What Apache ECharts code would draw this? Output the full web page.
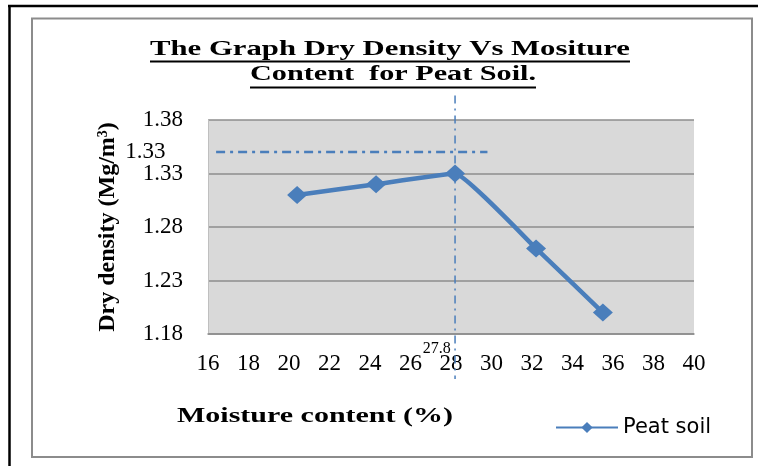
<!DOCTYPE html>
<html>
<head>
<meta charset="utf-8">
<title>Dry Density Vs Moisture Content</title>
<script src="https://cdn.jsdelivr.net/npm/echarts@6/dist/echarts.min.js"></script>
<style>
html, body { margin: 0; padding: 0; background: #fff; }
#chart { width: 758px; height: 466px; }
</style>
</head>
<body>
<div id="chart"></div>
<script>
// data
var moisture = [20.4, 24.3, 28.2, 32.2, 35.5];
var dryDensity = [1.31, 1.32, 1.33, 1.26, 1.20];
var xTickValues = [16, 18, 20, 22, 24, 26, 28, 30, 32, 34, 36, 38, 40];
var yTickLabels = ['1.18', '1.23', '1.28', '1.33', '1.38'];

// dash-dot guide lines (data units)
var omcGuideX = [28.2, 28.2];
var omcGuideY = [1.403, 1.138];
var mddGuideX = [16.4, 29.8];
var mddGuideY = [1.35, 1.35];

// hand typed annotations on the figure
var noteTexts = ['1.33', '27.8'];
var noteX = [13.9, 27.3];
var noteY = [1.35, 1.166];

var blue = '#4A7EBB';
var serif = '"Liberation Serif", "Times New Roman", serif';

function zip(xs, ys) {
  return xs.map(function (x, i) { return [x, ys[i]]; });
}

// the picture is stretched sideways, so fit some texts to a width
function fitScale(text, font, target) {
  var ctx = document.createElement('canvas').getContext('2d');
  ctx.font = font;
  return target / ctx.measureText(text).width;
}

var chart = echarts.init(document.getElementById('chart'));

var titleFont = 'bold 21px ' + serif;
var title1 = 'The Graph Dry Density Vs Mositure';
var title2 = 'Content  for Peat Soil.';
var xName = 'Moisture content (%)';

var option = {
  animation: false,
  backgroundColor: '#fff',
  grid: {
    left: 208, top: 120, width: 486, height: 214,
    show: true, backgroundColor: '#D9D9D9', borderWidth: 0,
    outerBoundsMode: 'none'
  },
  xAxis: {
    type: 'value',
    min: xTickValues[0],
    max: xTickValues[xTickValues.length - 1],
    interval: xTickValues[1] - xTickValues[0],
    axisLine: { show: true, lineStyle: { color: '#8C8C8C', width: 1.5 } },
    axisTick: { show: false },
    splitLine: { show: false },
    axisLabel: { margin: 18, color: '#000', fontFamily: serif, fontSize: 23 }
  },
  yAxis: {
    type: 'value',
    min: +yTickLabels[0],
    max: +yTickLabels[yTickLabels.length - 1],
    interval: +(yTickLabels[1] - yTickLabels[0]).toFixed(2),
    axisLine: { show: true, lineStyle: { color: '#BFBFBF', width: 1 } },
    axisTick: { show: false },
    splitLine: { show: true, lineStyle: { color: '#8C8C8C', width: 1.5 } },
    axisLabel: {
      margin: 25, color: '#000', fontFamily: serif, fontSize: 23,
      formatter: function (v) { return v.toFixed(2); }
    },
    name: '{a|Dry density (Mg/m}{s|3}{a|)}',
    nameLocation: 'middle',
    nameGap: 88,
    nameTextStyle: {
      rich: {
        a: { fontFamily: serif, fontSize: 24, fontWeight: 'bold', color: '#000' },
        s: { fontFamily: serif, fontSize: 14, fontWeight: 'bold', color: '#000', verticalAlign: 'top' }
      }
    }
  },
  legend: {
    left: 550, top: 412,
    itemWidth: 62, itemHeight: 14,
    textStyle: { fontFamily: '"DejaVu Sans", sans-serif', fontSize: 21, color: '#000' },
    data: ['Peat soil']
  },
  series: [
    {
      name: 'Peat soil',
      type: 'line',
      smooth: 0.1,
      data: zip(moisture, dryDensity),
      symbol: 'diamond',
      symbolSize: [20, 18],
      lineStyle: { color: blue, width: 4.5 },
      itemStyle: { color: blue }
    },
    {
      name: 'omc guide',
      type: 'line',
      clip: false,
      silent: true,
      symbol: 'none',
      data: zip(omcGuideX, omcGuideY),
      lineStyle: { color: blue, width: 1.5, type: [8, 5, 2, 5] }
    },
    {
      name: 'mdd guide',
      type: 'line',
      clip: false,
      silent: true,
      symbol: 'none',
      data: zip(mddGuideX, mddGuideY),
      lineStyle: { color: blue, width: 2.5, type: [9, 5, 3, 5] }
    }
  ]
};

chart.setOption(option);

// frames, title and free texts
var noteEls = noteTexts.map(function (t, i) {
  var p = chart.convertToPixel({ gridIndex: 0 }, [noteX[i], noteY[i]]);
  return {
    type: 'text', x: p[0], y: p[1], silent: true,
    style: {
      text: t, fill: '#000',
      font: (i === 0 ? '23px ' : '16px ') + serif,
      align: i === 0 ? 'right' : 'center', verticalAlign: 'middle'
    }
  };
});

chart.setOption({
  graphic: [
    { type: 'line', silent: true, shape: { x1: 8, y1: 6, x2: 758, y2: 6 }, style: { stroke: '#000', lineWidth: 2.5 } },
    { type: 'line', silent: true, shape: { x1: 9.5, y1: 5, x2: 9.5, y2: 466 }, style: { stroke: '#000', lineWidth: 2.5 } },
    { type: 'rect', silent: true, shape: { x: 32, y: 18.5, width: 720, height: 438.5 }, style: { fill: null, stroke: '#8C8C8C', lineWidth: 2 } },
    {
      type: 'text', x: 390, y: 50, silent: true,
      scaleX: fitScale(title1, titleFont, 480),
      style: { text: title1, font: titleFont, fill: '#000', align: 'center', verticalAlign: 'middle' }
    },
    { type: 'line', silent: true, shape: { x1: 150, y1: 61.5, x2: 630, y2: 61.5 }, style: { stroke: '#000', lineWidth: 2 } },
    {
      type: 'text', x: 393, y: 75, silent: true,
      scaleX: fitScale(title2, titleFont, 286),
      style: { text: title2, font: titleFont, fill: '#000', align: 'center', verticalAlign: 'middle' }
    },
    { type: 'line', silent: true, shape: { x1: 250, y1: 87.5, x2: 536, y2: 87.5 }, style: { stroke: '#000', lineWidth: 2 } },
    {
      type: 'text', x: 315, y: 417, silent: true,
      scaleX: fitScale(xName, titleFont, 276),
      style: { text: xName, font: titleFont, fill: '#000', align: 'center', verticalAlign: 'middle' }
    }
  ].concat(noteEls)
});

window.onresize = function () {
  chart.resize();
};
</script>
</body>
</html>
